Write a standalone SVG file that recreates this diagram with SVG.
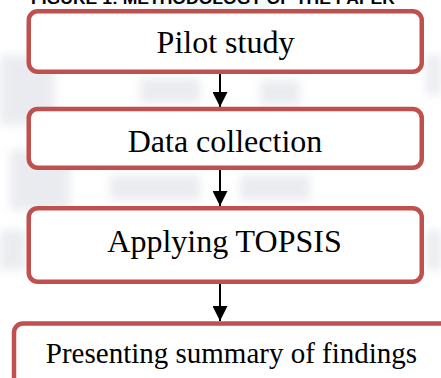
<svg xmlns="http://www.w3.org/2000/svg" width="441" height="378" viewBox="0 0 441 378">
  <defs>
    <style>
      .box { fill: #ffffff; stroke: #c0504d; stroke-width: 4.5; }
      .label { font-family: "Liberation Serif", "Times New Roman", serif; fill: #000000; text-anchor: middle; }
      .title { font-family: "Liberation Sans", Arial, sans-serif; font-weight: bold; fill: #000000; }
      .link { stroke: #000000; stroke-width: 2; fill: none; }
      .patch { fill: #c9cdd8; }
    </style>
    <marker id="arrow" markerUnits="userSpaceOnUse" markerWidth="16" markerHeight="15" refX="15" refY="7.5" orient="auto">
      <path d="M0,0 L15,7.5 L0,15 z" fill="#000000"/>
    </marker>
    <filter id="soft" x="-20%" y="-20%" width="140%" height="140%">
      <feGaussianBlur stdDeviation="5"/>
    </filter>
  </defs>

  <!-- faint background watermark -->
  <rect width="441" height="378" fill="#ffffff"/>
  <g filter="url(#soft)" opacity="0.38">
    <rect class="patch" x="0" y="55" width="55" height="70"/>
    <rect class="patch" x="10" y="150" width="60" height="60"/>
    <rect class="patch" x="140" y="78" width="60" height="25"/>
    <rect class="patch" x="260" y="80" width="40" height="25"/>
    <rect class="patch" x="110" y="175" width="90" height="25"/>
    <rect class="patch" x="240" y="175" width="70" height="25"/>
    <rect class="patch" x="426" y="55" width="15" height="40"/>
    <rect class="patch" x="426" y="230" width="15" height="40"/>
    <rect class="patch" x="0" y="230" width="26" height="40"/>
  </g>
  <rect x="150" y="0" width="120" height="10" fill="#dff5f3" opacity="0.7" filter="url(#soft)"/>

  <!-- heading, running off the top edge -->
  <text class="title" x="31" y="3.5" font-size="17" textLength="364" lengthAdjust="spacingAndGlyphs">FIGURE 1: METHODOLOGY OF THE PAPER</text>

  <!-- connectors -->
  <g id="connectors">
    <line class="link" x1="220" y1="74" x2="220" y2="107" marker-end="url(#arrow)"/>
    <line class="link" x1="220" y1="170" x2="220" y2="206" marker-end="url(#arrow)"/>
    <line class="link" x1="220" y1="284" x2="220" y2="321" marker-end="url(#arrow)"/>
  </g>

  <!-- process steps -->
  <g id="pilot-study">
    <rect class="box" x="28.75" y="11.25" width="393" height="60.5" rx="9"/>
    <text class="label" x="225.5" y="53.3" font-size="32">Pilot study</text>
  </g>
  <g id="data-collection">
    <rect class="box" x="28.75" y="109" width="393" height="58.7" rx="9"/>
    <text class="label" x="225" y="152.3" font-size="32">Data collection</text>
  </g>
  <g id="applying-topsis">
    <rect class="box" x="28.75" y="208.25" width="393" height="73.5" rx="9"/>
    <text class="label" x="224.5" y="251.7" font-size="32">Applying TOPSIS</text>
  </g>
  <g id="summary-of-findings">
    <rect class="box" x="14" y="323.5" width="440" height="80" rx="9"/>
    <text class="label" x="231.5" y="363.3" font-size="29">Presenting summary of findings</text>
  </g>
</svg>
